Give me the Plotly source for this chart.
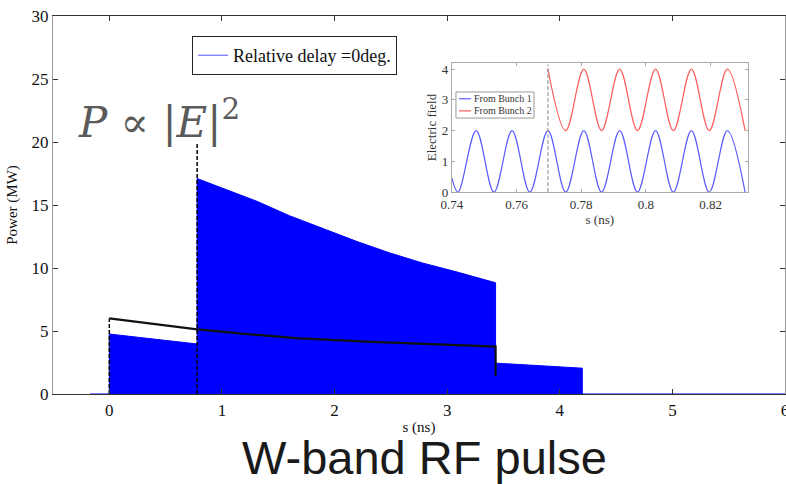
import plotly.graph_objects as go

# ---- main pulse (envelope of the dense RF oscillation) ----
pulse_s = [-0.17, 0.0, 0.0, 0.78, 0.78, 1.05, 1.31, 1.60, 1.90, 2.20, 2.49, 2.78, 3.08, 3.43, 3.43, 4.20, 4.20, 6.0]
pulse_p = [0, 0, 4.76, 3.97, 17.1, 16.2, 15.3, 14.15, 13.1, 12.1, 11.2, 10.4, 9.7, 8.83, 2.45, 2.05, 0, 0]

# black curve
env_s = [0.0, 0.78, 1.25, 1.69, 2.28, 2.87, 3.43, 3.43]
env_p = [6.0, 5.13, 4.73, 4.42, 4.15, 3.97, 3.76, 1.45]

# dashed bunch-arrival markers
bunch_s = [0.0, 0.78]
bunch_top = [6.0, 20.0]

x_ticks = [0, 1, 2, 3, 4, 5, 6]
y_ticks = [0, 5, 10, 15, 20, 25, 30]

# ---- inset: extrema of electric field ----
b1_s = [0.74, 0.7419, 0.7475, 0.7530, 0.7586, 0.7641, 0.7697, 0.7752, 0.7808,
        0.7863, 0.7919, 0.7974, 0.8030, 0.8085, 0.8141, 0.8196, 0.8252, 0.8307]
b1_E = [0.45, 0, 2, 0, 2, 0, 2, 0, 2, 0, 2, 0, 2, 0, 2, 0, 2, 0]
b2_s = [0.7697, 0.7752, 0.7808, 0.7863, 0.7919, 0.7974, 0.8030, 0.8085,
        0.8141, 0.8196, 0.8252, 0.8307]
b2_E = [4, 2, 4, 2, 4, 2, 4, 2, 4, 2, 4, 2]
inset_mark_s = 0.7697
inset_x_ticks = [0.74, 0.76, 0.78, 0.80, 0.82]
inset_x_text = ["0.74", "0.76", "0.78", "0.8", "0.82"]
inset_y_ticks = [0, 1, 2, 3, 4]
inset_names = ["From Bunch 1", "From Bunch 2"]
inset_colors = ["#5c5cff", "#ff5c5c"]

SERIF = "Liberation Serif, Times New Roman, serif"

fig = go.Figure()

fig.add_trace(go.Scatter(x=pulse_s, y=pulse_p, mode="lines", fill="tozeroy",
                         fillcolor="#0000ff", line=dict(color="#0000ff", width=1),
                         showlegend=False, hoverinfo="skip"))
fig.add_trace(go.Scatter(x=[None], y=[None], mode="lines", name="Relative delay =0deg.",
                         line=dict(color="#6b6bff", width=1.2)))
for s, top in zip(bunch_s, bunch_top):
    fig.add_trace(go.Scatter(x=[s, s], y=[0, top], mode="lines",
                             line=dict(color="black", width=1.5, dash="4px,2px"),
                             showlegend=False, hoverinfo="skip"))
fig.add_trace(go.Scatter(x=env_s, y=env_p, mode="lines",
                         line=dict(color="#111111", width=2.2),
                         showlegend=False, hoverinfo="skip"))

# inset
fig.add_trace(go.Scatter(x=b1_s, y=b1_E, mode="lines", name=inset_names[0],
                         line=dict(color=inset_colors[0], width=1.2, shape="spline"),
                         xaxis="x2", yaxis="y2", showlegend=False))
fig.add_trace(go.Scatter(x=b2_s, y=b2_E, mode="lines", name=inset_names[1],
                         line=dict(color=inset_colors[1], width=1.2, shape="spline"),
                         xaxis="x2", yaxis="y2", showlegend=False))
fig.add_trace(go.Scatter(x=[inset_mark_s, inset_mark_s], y=[0, 4.15], mode="lines",
                         line=dict(color="#888888", width=1, dash="4px,2px"),
                         xaxis="x2", yaxis="y2", showlegend=False, hoverinfo="skip"))

# inset legend (drawn as layout shapes + text)
shapes = [dict(type="rect", xref="paper", yref="paper", x0=0.5505, x1=0.6571,
               y0=0.730, y1=0.799, line=dict(color="#999", width=1), fillcolor="white",
               layer="above")]
annotations = []
leg_y = [0.781, 0.749]
for name, col, yy in zip(inset_names, inset_colors, leg_y):
    shapes.append(dict(type="line", xref="paper", yref="paper", x0=0.5546, x1=0.5710,
                       y0=yy, y1=yy, line=dict(color=col, width=1.2), layer="above"))
    annotations.append(dict(text=name, xref="paper", yref="paper", x=0.5720, y=yy,
                            xanchor="left", yanchor="middle", showarrow=False,
                            font=dict(family=SERIF, size=10, color="#333")))

annotations += [
    dict(text="<i>P</i> ∝ |<i>E</i>|<sup>2</sup>", xref="paper", yref="paper",
         x=0.145, y=0.727, xanchor="center", yanchor="middle", showarrow=False,
         font=dict(family="DejaVu Serif, serif", size=42, color="#5a5a5a")),
    dict(text="W-band RF pulse", xref="paper", yref="paper",
         x=0.507, y=-0.168, xanchor="center", yanchor="middle", showarrow=False,
         font=dict(family="Liberation Sans, Arial, sans-serif", size=47, color="#1a1a1a")),
]

fig.update_layout(
    width=786, height=484,
    margin=dict(l=53, r=1, t=16, b=90, autoexpand=False),
    paper_bgcolor="white", plot_bgcolor="white",
    xaxis=dict(range=[-0.5, 6], tickvals=x_ticks, ticks="inside", ticklen=5,
               tickcolor="#333", showline=True, linecolor="#333", linewidth=1.2,
               mirror="ticks", showgrid=False, zeroline=False, ticklabeloverflow="allow",
               automargin=False,
               tickfont=dict(family=SERIF, size=17, color="#111"),
               title=dict(text="s (ns)", font=dict(family=SERIF, size=15, color="#111"),
                          standoff=2)),
    yaxis=dict(range=[0, 30], tickvals=y_ticks, ticks="inside", ticklen=5,
               tickcolor="#333", showline=True, linecolor="#999", linewidth=1.2,
               mirror="ticks", showgrid=False, zeroline=False, automargin=False,
               tickfont=dict(family=SERIF, size=17, color="#111"),
               title=dict(text="Power (MW)", font=dict(family=SERIF, size=15, color="#111"),
                          standoff=10)),
    xaxis2=dict(domain=[0.545, 0.949], anchor="y2", range=[0.74, 0.8315],
                tickvals=inset_x_ticks, ticktext=inset_x_text, ticks="inside", ticklen=3,
                tickcolor="#aaa", showline=True, linecolor="#aaa", linewidth=1,
                mirror="ticks", showgrid=False, zeroline=False, automargin=False,
                tickfont=dict(family=SERIF, size=13, color="#333"),
                title=dict(text="s (ns)", font=dict(family=SERIF, size=13, color="#333"),
                           standoff=0)),
    yaxis2=dict(domain=[0.534, 0.876], anchor="x2", range=[0, 4.2],
                tickvals=inset_y_ticks, ticks="inside", ticklen=3,
                tickcolor="#aaa", showline=True, linecolor="#aaa", linewidth=1,
                mirror="ticks", showgrid=False, zeroline=False, automargin=False,
                tickfont=dict(family=SERIF, size=13, color="#333"),
                title=dict(text="Electric field", font=dict(family=SERIF, size=13, color="#333"),
                           standoff=2)),
    legend=dict(x=0.19, y=0.947, xanchor="left", yanchor="top",
                bgcolor="white", bordercolor="#222", borderwidth=1,
                font=dict(family=SERIF, size=18, color="#111"),
                itemwidth=30, tracegroupgap=0),
    shapes=shapes,
    annotations=annotations,
)

fig.write_html("out.html")
